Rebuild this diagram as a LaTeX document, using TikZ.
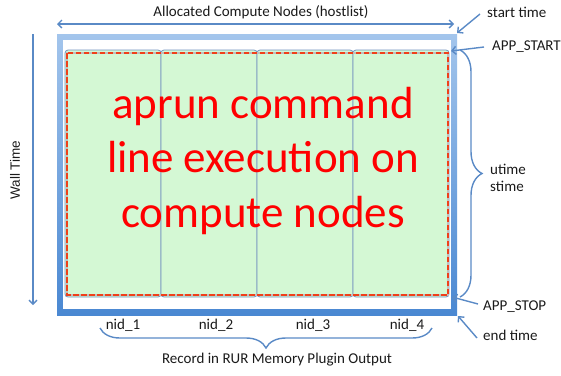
\documentclass[tikz,border=0pt]{standalone}
\usepackage{fontspec}
\setmainfont{Carlito}
\newfontfamily\arialfont{Liberation Sans}
\usetikzlibrary{arrows.meta,decorations.pathreplacing}

\definecolor{frameTop}{HTML}{A3C5EC}
\definecolor{frameBot}{HTML}{4A88D2}
\definecolor{lineBlue}{HTML}{5A8AC6}
\definecolor{colEdge}{HTML}{7391C0}
\definecolor{colFill}{HTML}{D4F8D4}
\definecolor{dashRed}{HTML}{F0401A}
\definecolor{txt}{HTML}{1A1A1A}

\tikzset{
  conn/.style={draw=lineBlue, line width=1.4pt, -{Straight Barb[length=4pt,width=8pt]}},
  bracestyle/.style={draw=lineBlue, line width=1.4pt, decorate},
  colbox/.style={draw=colEdge, fill=colFill, line width=0.8pt, rounded corners=3pt,
    minimum width=96pt, minimum height=247pt, inner sep=0pt, outer sep=0pt, anchor=north west},
  lbl/.style={font=\fontsize{15}{17.5}\selectfont, text=txt, inner sep=0pt},
  big/.style={font=\fontsize{45}{54}\selectfont, text=red, inner sep=0pt, anchor=base},
}

\begin{document}
\begin{tikzpicture}[x=1pt,y=-1pt]
\useasboundingbox (0,0) rectangle (561,375);

% outer blue frame
\shade[top color=frameTop, bottom color=frameBot] (57,34) rectangle (457,315);
\fill[white] (63,40) rectangle (451,309);
\coordinate (fNE) at (457,33);
\coordinate (fSE) at (458,316);

% compute node columns
\node[colbox] (c1) at (65,50) {};
\node[colbox] (c2) at (161,50) {};
\node[colbox] (c3) at (257,50) {};
\node[colbox] (c4) at (353,50) {};
\coordinate (aStart) at (451,51);
\coordinate (aStop) at (452,297);

% application extent
\draw[draw=black!25, line width=2.2pt] (67,53) rectangle (448,295);
\draw[draw=dashRed, line width=1.5pt, dash pattern=on 5.5pt off 2.5pt] (67,53) rectangle (448,295);

% central text
\node[big] (t1) at (263,118) {aprun command};
\node[big] (t2) at (263,172) {line execution on};
\node[big] (t3) at (263,227) {compute nodes};

% top span arrow
\coordinate (hl) at (57,24);
\coordinate (hr) at (454,24);
\draw[conn, {Straight Barb[length=4pt,width=8pt]}-{Straight Barb[length=4pt,width=8pt]}] (hl) -- (hr);
\node[lbl] (alloc) at (261,12) {Allocated Compute Nodes (hostlist)};

% wall time arrow
\coordinate (wt) at (33,34);
\coordinate (wb) at (33,305);
\draw[conn] (wt) -- (wb);
\node[lbl, font=\arialfont\fontsize{13.5}{16}\selectfont, rotate=90] (wall) at (15,170) {Wall Time};

% right-hand labels and pointers
\node[lbl, anchor=west] (stt) at (487,12) {start time};
\node[lbl, anchor=west] (aps) at (492,47) {APP\_START};
\node[lbl, anchor=west] (apx) at (483,307) {APP\_STOP};
\node[lbl, anchor=west] (endt) at (483,335) {end time};
\draw[conn] ([shift={(-7pt,-2pt)}]stt.west) -- (fNE);
\draw[conn] ([xshift=-8pt]aps.west) -- (aStart);
\draw[conn] ([shift={(-5pt,3pt)}]apx.west) -- (aStop);
\draw[conn] ([shift={(-6pt,-3pt)}]endt.west) -- (fSE);

% right brace
\coordinate (rb1) at (460,50);
\coordinate (rb2) at (460,297);
\draw[bracestyle, decoration={brace, amplitude=22pt}] (rb1) -- (rb2);
\node[lbl, anchor=west, align=left] (ut) at (490,178) {utime\\[-1pt]stime};

% node ids
\node[lbl] (n1) at (123,325) {nid\_1};
\node[lbl] (n2) at (216,325) {nid\_2};
\node[lbl] (n3) at (313,325) {nid\_3};
\node[lbl] (n4) at (407,325) {nid\_4};

% bottom brace
\coordinate (bb1) at (432,328);
\coordinate (bb2) at (100,328);
\draw[bracestyle, decoration={brace, amplitude=20pt}] (bb1) -- (bb2);
\node[lbl] (rec) at (277,360) {Record in RUR Memory Plugin Output};
\end{tikzpicture}
\end{document}
